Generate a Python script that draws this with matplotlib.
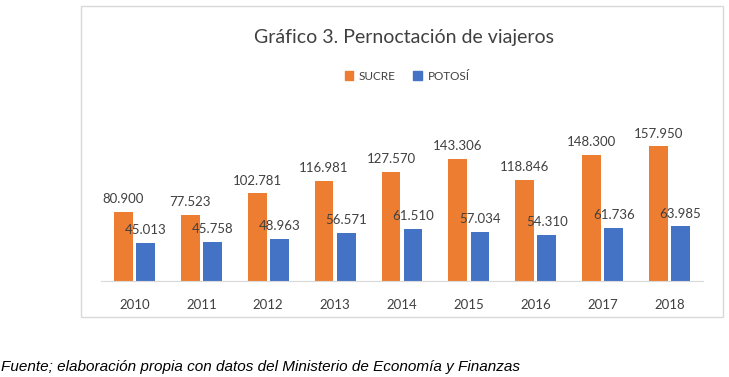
import numpy as np
import matplotlib.pyplot as plt
from matplotlib.patches import Rectangle, Patch

# data
years = ["2010", "2011", "2012", "2013", "2014", "2015", "2016", "2017", "2018"]
sucre = [80.900, 77.523, 102.781, 116.981, 127.570, 143.306, 118.846, 148.300, 157.950]
potosi = [45.013, 45.758, 48.963, 56.571, 61.510, 57.034, 54.310, 61.736, 63.985]

orange = "#ED7D31"
blue = "#4472C4"
txt = "#404040"
W, H = 729, 377

fig = plt.figure(figsize=(W / 100, H / 100), dpi=100)
plt.rcParams["font.family"] = "Lato"

# chart frame
fig.patches.append(Rectangle((81 / W, 1 - 317 / H), (723 - 81) / W, (317 - 6) / H,
                             transform=fig.transFigure, fill=False,
                             edgecolor="#d9d9d9", linewidth=1))

ax = fig.add_axes([101 / W, 1 - 281 / H, (703 - 101) / W, (281 - 120) / H])
x = np.arange(len(years))
bw = 0.28
off = 0.165
b1 = ax.bar(x - off, sucre, bw, color=orange)
b2 = ax.bar(x + off, potosi, bw, color=blue)

def fmt(v):
    return f"{v:.3f}"

ax.bar_label(b1, labels=[fmt(v) for v in sucre], padding=5, fontsize=9.5, color=txt)
ax.bar_label(b2, labels=[fmt(v) for v in potosi], padding=5, fontsize=9.5, color=txt)

ax.set_xlim(-0.5, len(years) - 0.5)
ax.set_ylim(0, 189)
ax.set_xticks(x)
ax.set_xticklabels(years, fontsize=9.5, color=txt)
ax.tick_params(axis="x", length=0, pad=13)
ax.set_yticks([])
for s in ["top", "right", "left"]:
    ax.spines[s].set_visible(False)
ax.spines["bottom"].set_color("#d9d9d9")

fig.text(404 / W, 1 - 37 / H, "Gráfico 3. Pernoctación de viajeros",
         ha="center", va="center", fontsize=14, color=txt)

handles = [Patch(color=orange, label="SUCRE"), Patch(color=blue, label="POTOSÍ")]
fig.legend(handles=handles, loc="center", bbox_to_anchor=(407 / W, 1 - 76 / H),
           ncol=2, frameon=False, fontsize=8.5, handlelength=0.7, handleheight=0.7,
           handletextpad=0.5, columnspacing=1.5, labelcolor=txt)

fig.text(1 / W, 1 - 367 / H,
         "Fuente; elaboración propia con datos del Ministerio de Economía y Finanzas",
         ha="left", va="center", fontsize=11, style="italic",
         family="Liberation Sans", color="black")

plt.savefig("out.png", dpi=100)
